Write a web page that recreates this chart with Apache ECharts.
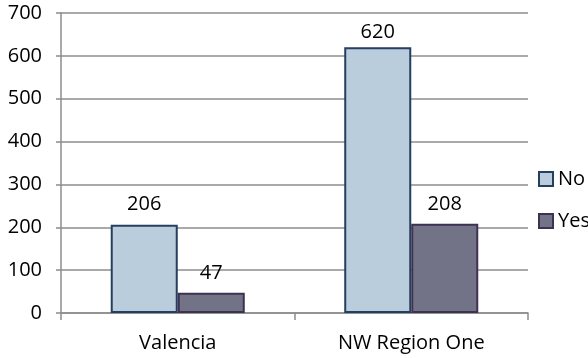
<!DOCTYPE html>
<html>
<head>
<meta charset="utf-8">
<script src="https://cdn.jsdelivr.net/npm/echarts@6/dist/echarts.min.js"></script>
<style>
html,body{margin:0;padding:0;background:#fff;}
#chart{width:588px;height:358px;}
</style>
</head>
<body>
<div id="chart"></div>
<script>
const categories = ['Valencia', 'NW Region One'];
const noValues = [206, 620];
const yesValues = [47, 208];
const seriesNames = ['No', 'Yes'];
const yTicks = [0, 100, 200, 300, 400, 500, 600, 700];

const FONT = 'Open Sans';
const TXT = '#000000';
const noStyle = { color: '#B9CDDC', borderColor: '#243F60', borderWidth: 2 };
const yesStyle = { color: '#737387', borderColor: '#3F3151', borderWidth: 2 };

function toItems(vals) {
  return vals.map(v => ({ value: v, label: { distance: v > 600 ? 5 : 10 } }));
}

const chart = echarts.init(document.getElementById('chart'), null, { renderer: 'canvas' });
chart.setOption({
  animation: false,
  backgroundColor: '#ffffff',
  textStyle: { fontFamily: FONT },
  grid: { left: 61, right: 60, top: 13, bottom: 45, containLabel: false },
  legend: {
    orient: 'vertical',
    left: 538,
    top: 169,
    padding: 0,
    itemWidth: 14,
    itemHeight: 14,
    itemGap: 22,
    icon: 'rect',
    textStyle: { fontFamily: FONT, fontSize: 20, color: TXT },
    data: [
      { name: seriesNames[0], itemStyle: noStyle },
      { name: seriesNames[1], itemStyle: yesStyle }
    ]
  },
  xAxis: {
    type: 'category',
    data: categories,
    boundaryGap: true,
    axisLine: { show: true, lineStyle: { color: '#8C8C8C', width: 1.5 } },
    axisTick: { show: true, length: 7, lineStyle: { color: '#8C8C8C', width: 1.5 } },
    axisLabel: { fontFamily: FONT, fontSize: 20, color: TXT, margin: 20 },
    splitLine: { show: false }
  },
  yAxis: {
    type: 'value',
    min: yTicks[0],
    max: yTicks[yTicks.length - 1],
    interval: 100,
    axisLine: { show: true, lineStyle: { color: '#8C8C8C', width: 1.5 } },
    axisTick: { show: true, length: 5, lineStyle: { color: '#8C8C8C', width: 1.5 } },
    axisLabel: { fontFamily: FONT, fontSize: 20, color: TXT, margin: 19 },
    splitLine: { show: true, lineStyle: { color: '#8C8C8C', width: 1.5 } }
  },
  series: [
    {
      name: seriesNames[0],
      type: 'bar',
      data: toItems(noValues),
      barGap: '0%',
      barCategoryGap: '42.6%',
      itemStyle: noStyle,
      label: { show: true, position: 'top', fontFamily: FONT, fontSize: 20, color: TXT }
    },
    {
      name: seriesNames[1],
      type: 'bar',
      data: toItems(yesValues),
      barGap: '0%',
      barCategoryGap: '42.6%',
      itemStyle: yesStyle,
      label: { show: true, position: 'top', fontFamily: FONT, fontSize: 20, color: TXT }
    }
  ]
});
</script>
</body>
</html>
